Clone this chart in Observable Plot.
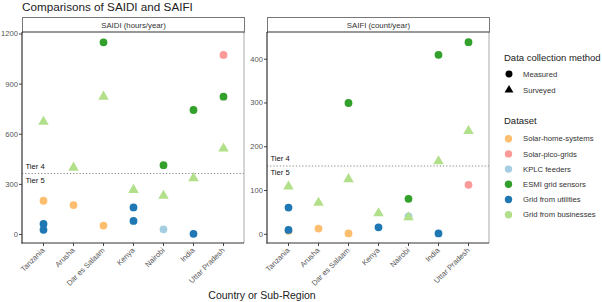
<!DOCTYPE html>
<html><head><meta charset="utf-8">
<script src="https://cdn.jsdelivr.net/npm/d3@7"></script>
<script src="https://cdn.jsdelivr.net/npm/@observablehq/plot@0.6"></script>
<style>
html,body{margin:0;padding:0;background:#fff;}
#root{position:relative;width:602px;height:302px;overflow:hidden;font-family:"Liberation Sans",Arial,sans-serif;background:#fff;}
.abs{position:absolute;}
.strip{position:absolute;box-sizing:border-box;height:16px;border:1px solid #777;border-bottom:none;font-size:7.8px;color:#333;text-align:center;line-height:15px;background:#fff;white-space:nowrap;}
</style></head><body>
<div id="root">
  <div class="abs" style="left:22px;top:0;font-size:11.7px;line-height:14px;color:#222;white-space:nowrap">Comparisons of SAIDI and SAIFI</div>
  <div class="strip" id="strip1" style="left:22px;top:17px;width:223px;"></div>
  <div class="strip" id="strip2" style="left:267px;top:17px;width:223px;"></div>
  <div class="abs" id="p1" style="left:0;top:30px;"></div>
  <div class="abs" id="p2" style="left:245px;top:30px;"></div>
  <div class="abs" id="xlab" style="left:162px;width:200px;text-align:center;top:289px;font-size:10.5px;line-height:12px;color:#222;white-space:nowrap"></div>
  <svg class="abs" id="legend" style="left:0;top:0" width="602" height="302"></svg>
</div>
<script>
// ---- data ----
const regions = ["Tanzania","Arusha","Dar es Salaam","Kenya","Nairobi","India","Uttar Pradesh"];
const datasets = ["Solar-home-systems","Solar-pico-grids","KPLC feeders","ESMI grid sensors","Grid from utilities","Grid from businesses"];
const datasetColors = ["#FDBF6F","#FB9A99","#A6CEE3","#33A02C","#1F78B4","#B2DF8A"];
const methods = ["Measured","Surveyed"];
const methodSymbols = ["circle","triangle"];

const rowRegion  = ["Tanzania","Tanzania","Tanzania","Tanzania","Arusha","Arusha","Dar es Salaam","Dar es Salaam","Dar es Salaam","Kenya","Kenya","Kenya","Nairobi","Nairobi","Nairobi","India","India","India","Uttar Pradesh","Uttar Pradesh","Uttar Pradesh"];
const rowDataset = ["Solar-home-systems","Grid from utilities","Grid from utilities","Grid from businesses","Solar-home-systems","Grid from businesses","Solar-home-systems","ESMI grid sensors","Grid from businesses","Grid from utilities","Grid from utilities","Grid from businesses","KPLC feeders","ESMI grid sensors","Grid from businesses","ESMI grid sensors","Grid from utilities","Grid from businesses","Solar-pico-grids","ESMI grid sensors","Grid from businesses"];
const rowMethod  = ["Measured","Measured","Measured","Surveyed","Measured","Surveyed","Measured","Measured","Surveyed","Measured","Measured","Surveyed","Measured","Measured","Surveyed","Measured","Measured","Surveyed","Measured","Measured","Surveyed"];
const saidi = [202, 63, 28, 675, 176, 400, 53, 1150, 825, 162, 81, 267, 31, 415, 232, 745, 4, 337, 1075, 825, 515];
const saifi = [8, 61, 10, 109, 13, 72, 2, 300, 126, 16, null, 48, 41, 81, 39, 410, 2, 167, 113, 439, 236];

const panels = [
  {title: "SAIDI (hours/year)", values: saidi, domain: [-54, 1209], ticks: [0, 300, 600, 900, 1200], tier: 365},
  {title: "SAIFI (count/year)", values: saifi, domain: [-21, 461], ticks: [0, 100, 200, 300, 400], tier: 156}
];
const tierLabels = ["Tier 4", "Tier 5"];
const xLabel = "Country or Sub-Region";
const legendTitle1 = "Data collection method";
const legendTitle2 = "Dataset";

// ---- build ----
const rows = rowRegion.map((r, i) => ({region: r, dataset: rowDataset[i], method: rowMethod[i]}));
const FONT = "'Liberation Sans', Arial, sans-serif";

function borders(index, scales, values, dim) {
  const g = d3.create("svg:g");
  const l = dim.marginLeft, r = dim.width - dim.marginRight, t = dim.marginTop, b = dim.height - dim.marginBottom;
  g.append("line").attr("x1", r).attr("x2", r).attr("y1", t).attr("y2", b).attr("stroke", "#aaa").attr("stroke-width", 1);
  g.append("line").attr("x1", l).attr("x2", r).attr("y1", t).attr("y2", t).attr("stroke", "#333").attr("stroke-width", 1.2);
  g.append("line").attr("x1", l).attr("x2", l).attr("y1", t).attr("y2", b + 0.6).attr("stroke", "#333").attr("stroke-width", 1.2);
  g.append("line").attr("x1", l - 0.6).attr("x2", r).attr("y1", b).attr("y2", b).attr("stroke", "#333").attr("stroke-width", 1.2);
  return g.node();
}

panels.forEach((p, k) => {
  document.getElementById("strip" + (k + 1)).textContent = p.title;
  const data = rows.map((d, i) => ({...d, v: p.values[i]})).filter(d => d.v != null);
  const chart = Plot.plot({
    width: 246, height: 272,
    marginLeft: 22, marginRight: 2, marginTop: 2, marginBottom: 59,
    style: {fontFamily: FONT, background: "transparent", overflow: "visible"},
    x: {type: "point", domain: regions, padding: 0.6},
    y: {domain: p.domain},
    color: {domain: datasets, range: datasetColors},
    symbol: {domain: methods, range: methodSymbols},
    marks: [
      Plot.ruleY([p.tier], {stroke: "#777", strokeWidth: 0.9, strokeDasharray: "1.2,2"}),
      Plot.text([tierLabels[0]], {text: d => d, y: p.tier, frameAnchor: "left", textAnchor: "start", dx: 3, dy: -7, fontSize: 7.6, fill: "#111"}),
      Plot.text([tierLabels[1]], {text: d => d, y: p.tier, frameAnchor: "left", textAnchor: "start", dx: 3, dy: 7, fontSize: 7.6, fill: "#111"}),
      Plot.dot(data, {x: "region", y: "v", fill: "dataset", symbol: "method", r: 3.9, stroke: "none"}),
      Plot.axisY(p.ticks, {tickSize: 3, tickPadding: 1.5, fontSize: 7.6, fill: "#555", stroke: "#444", label: null, tickFormat: d => String(d)}),
      Plot.axisX({tickRotate: -45, tickSize: 3, tickPadding: 2.5, fontSize: 7.6, fill: "#555", stroke: "#444", label: null}),
      borders
    ]
  });
  document.getElementById("p" + (k + 1)).appendChild(chart);
});

document.getElementById("xlab").textContent = xLabel;

// ---- legend ----
const lg = d3.select("#legend").style("font-family", FONT);
lg.append("text").attr("x", 504).attr("y", 58).attr("dy", "0.35em").attr("font-size", 9.5).attr("fill", "#222").text(legendTitle1);
methods.forEach((m, i) => {
  const cy = 74 + i * 16;
  lg.append("path").attr("transform", `translate(509,${cy})`)
    .attr("d", d3.symbol().type(methodSymbols[i] === "circle" ? d3.symbolCircle : d3.symbolTriangle).size(i === 0 ? 38 : 34)())
    .attr("fill", "#000");
  lg.append("text").attr("x", 523).attr("y", cy).attr("dy", "0.35em").attr("font-size", 7.7).attr("fill", "#333").text(m);
});
lg.append("text").attr("x", 504).attr("y", 121).attr("dy", "0.35em").attr("font-size", 9.5).attr("fill", "#222").text(legendTitle2);
datasets.forEach((d, i) => {
  const cy = 138.7 + i * 15.2;
  lg.append("circle").attr("cx", 508.5).attr("cy", cy).attr("r", 3.7).attr("fill", datasetColors[i]);
  lg.append("text").attr("x", 523).attr("y", cy).attr("dy", "0.35em").attr("font-size", 7.7).attr("fill", "#333").text(d);
});
</script>
</body></html>
